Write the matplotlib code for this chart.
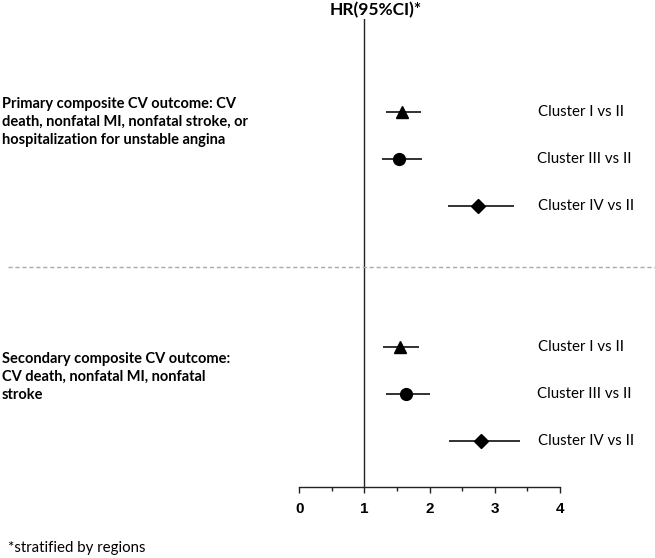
import matplotlib
matplotlib.use("Agg")
import matplotlib.pyplot as plt
from matplotlib.ticker import MultipleLocator

# Data
comparisons = ["Cluster I vs II", "Cluster III vs II", "Cluster IV vs II"]
primary_hr = [1.57, 1.53, 2.74]
primary_lo = [1.33, 1.27, 2.28]
primary_hi = [1.86, 1.89, 3.29]
secondary_hr = [1.54, 1.64, 2.79]
secondary_lo = [1.29, 1.33, 2.30]
secondary_hi = [1.84, 2.01, 3.38]
markers = ["^", "o", "D"]
outcome_labels = [
    "Primary composite CV outcome: CV\ndeath, nonfatal MI, nonfatal stroke, or\nhospitalization for unstable angina",
    "Secondary composite CV outcome:\nCV death, nonfatal MI, nonfatal\nstroke",
]
xticks = [0, 1, 2, 3, 4]

W, H = 655, 558
fig = plt.figure(figsize=(W / 100, H / 100), dpi=100)

left = 299.3 / W
width = (560 - 299.3) / W
bottom = (H - 486.7) / H
height = (486.7 - 19) / H
ax = fig.add_axes([left, bottom, width, height])

row_px = 47.0
y0_px = 112.0
def ypos(px):
    return (px - y0_px) / row_px

ax.set_xlim(0, 4)
ax.set_ylim(ypos(486.7), ypos(19))

prim_rows = [0, 1, 2]
sec_rows = [5, 6, 7]
label_x = [3.67, 3.64, 3.67]

for rows, hr, lo, hi in [(prim_rows, primary_hr, primary_lo, primary_hi),
                         (sec_rows, secondary_hr, secondary_lo, secondary_hi)]:
    for r, h, l, u, m, lab, lx in zip(rows, hr, lo, hi, markers, comparisons, label_x):
        ax.plot([l, u], [r, r], color="#222222", lw=1.3, solid_capstyle="butt")
        ms = {"^": 8, "o": 8.5, "D": 7.5}[m]
        ax.plot([h], [r], marker=m, color="black", ms=ms, ls="none")
        ax.text(lx, r, lab, ha="left", va="center", fontsize=10.8,
                family="Lato", clip_on=False)

ax.axvline(1, color="#222222", lw=1.0)

for s in ["top", "right", "left"]:
    ax.spines[s].set_visible(False)
ax.spines["bottom"].set_linewidth(1.0)
ax.spines["bottom"].set_color("#222222")
ax.set_yticks([])
ax.set_xticks(xticks)
ax.set_xticklabels([str(t) for t in xticks], fontweight="bold",
                   family="Liberation Sans", fontsize=11)
ax.xaxis.set_minor_locator(MultipleLocator(0.5))
ax.tick_params(axis="x", which="major", length=4, width=1.0, pad=7, color="#222222")
ax.tick_params(axis="x", which="minor", length=3, width=1.0, color="#222222")

# dashed separator
fig.add_artist(plt.Line2D([8 / W, 1.0], [(H - 267) / H, (H - 267) / H],
                          color="#aaaaaa", lw=1.0, ls=(0, (3, 2))))

# title
fig.text(376 / W, (H - 10) / H, "HR(95%CI)*", ha="center", va="center",
         fontsize=12.5, fontweight="bold", family="Lato")

# outcome labels
fig.text(2 / W, (H - 122) / H, outcome_labels[0], ha="left", va="center",
         fontsize=10.5, fontweight="bold", family="Lato", linespacing=1.38)
fig.text(2 / W, (H - 377) / H, outcome_labels[1], ha="left", va="center",
         fontsize=10.5, fontweight="bold", family="Lato", linespacing=1.38)

fig.text(8 / W, (H - 548) / H, "*stratified by regions", ha="left", va="center",
         fontsize=10.8, family="Lato")

fig.savefig("out.png", dpi=100)
